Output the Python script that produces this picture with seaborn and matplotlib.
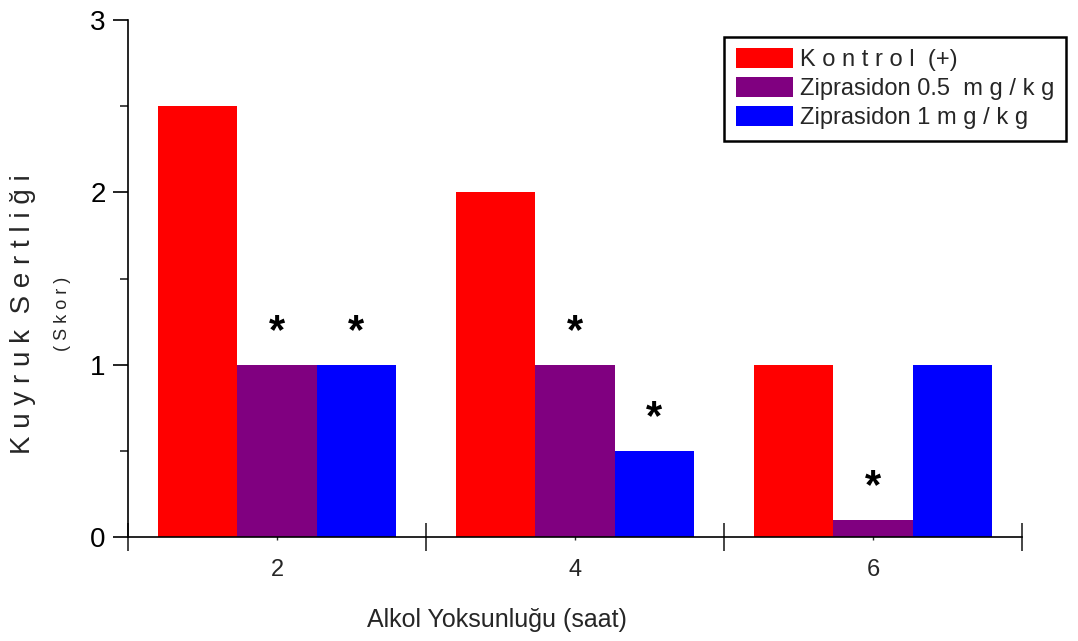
import matplotlib
matplotlib.use("Agg")
import matplotlib.pyplot as plt
import seaborn as sns
import pandas as pd
from matplotlib.ticker import FixedLocator

# --- data ---
hours = ["2", "4", "6"]
groups = ["K o n t r o l  (+)", "Ziprasidon 0.5  m g / k g", "Ziprasidon 1 m g / k g"]
kontrol = [2.5, 2.0, 1.0]
zip_05 = [1.0, 1.0, 0.1]
zip_1 = [1.0, 0.5, 1.0]
# significance marks (group index, hour index)
stars = [(1, 0), (2, 0), (1, 1), (2, 1), (1, 2)]
colors = ["#ff0000", "#800080", "#0000ff"]

rows = []
for g, vals in zip(groups, [kontrol, zip_05, zip_1]):
    for h, v in zip(hours, vals):
        rows.append({"saat": h, "grup": g, "skor": v})
df = pd.DataFrame(rows)

sns.set_style("ticks")
plt.rcParams["font.family"] = ["Liberation Sans", "DejaVu Sans"]
narrow = ["Liberation Sans Narrow", "Liberation Sans", "DejaVu Sans"]

fig = plt.figure(figsize=(10.78, 6.41), dpi=100)
ax = fig.add_axes([0.1187, 0.1622, 0.8293, 0.8066])

sns.barplot(data=df, x="saat", y="skor", hue="grup", hue_order=groups,
            order=hours, palette=colors, saturation=1, width=0.8,
            linewidth=0, ax=ax)

ax.set_xlim(-0.5, 2.5)
ax.set_ylim(0, 3)
sns.despine(ax=ax, top=True, right=True)
for s in ("left", "bottom"):
    ax.spines[s].set_linewidth(1.2)
    ax.spines[s].set_color("black")

# y ticks
ax.yaxis.set_major_locator(FixedLocator([0, 1, 2, 3]))
ax.yaxis.set_minor_locator(FixedLocator([0.5, 1.5, 2.5]))
ax.tick_params(axis="y", which="major", direction="out", length=11, width=1.2,
               labelsize=20, pad=5, colors="black")
ax.tick_params(axis="y", which="minor", direction="out", length=6, width=1.2)

# x ticks: boundaries crossing the axis, labels at group centres
ax.set_xticks([0, 1, 2])
ax.set_xticklabels(hours, fontfamily=narrow, fontsize=17)
ax.set_xticks([-0.5, 0.5, 1.5, 2.5], minor=True)
ax.tick_params(axis="x", which="major", direction="inout", length=4, width=1,
               pad=14)
ax.tick_params(axis="x", which="minor", direction="inout", length=20, width=1.2)

ax.set_xlabel("")
ax.set_ylabel("")

# significance asterisks above bars
bar_w = 0.8 / 3
all_vals = [kontrol, zip_05, zip_1]
for gi, hi in stars:
    xc = hi - 0.4 + bar_w * (gi + 0.5)
    ax.text(xc, all_vals[gi][hi] + 0.19, "*", ha="center", va="center",
            fontsize=30, fontweight="bold", color="black")

# axis titles
fig.text(0.461, 0.032, "Alkol Yoksunluğu (saat)", ha="center", va="center",
         fontsize=18, fontfamily=narrow)
fig.text(0.021, 0.51, "K u y r u k  S e r t l i ğ i", rotation=90,
         ha="center", va="center", fontsize=20)
fig.text(0.058, 0.51, "( S k o r )", rotation=90, ha="center", va="center",
         fontsize=13)

leg = ax.legend(loc="upper left", bbox_to_anchor=(0.667, 0.968),
                frameon=True, fancybox=False, fontsize=17, handlelength=2.4,
                handleheight=0.9, handletextpad=0.3, borderpad=0.5,
                labelspacing=0.25, borderaxespad=0)
leg.get_frame().set_edgecolor("black")
leg.get_frame().set_linewidth(1.8)
leg.get_frame().set_alpha(1)

fig.savefig("out.png", dpi=100)
